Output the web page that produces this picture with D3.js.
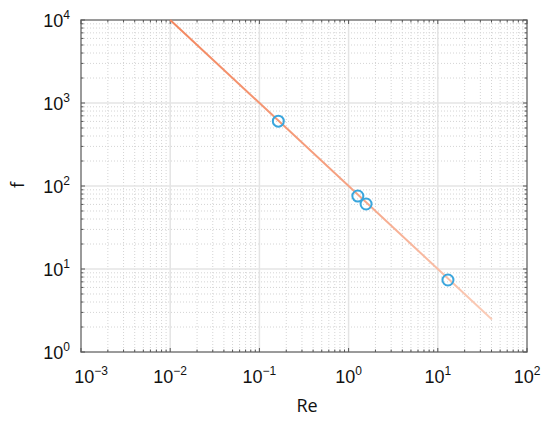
<!DOCTYPE html>
<meta charset="utf-8">
<style>
  body { margin: 0; background: #fff; }
  .tick-label { font-family: "Liberation Sans", Arial, sans-serif; font-size: 18px; fill: #111; }
  .axis-title { font-family: "Open Sans", sans-serif; font-size: 18px; fill: #111; }
</style>
<body>
<svg width="550" height="421"></svg>
<script src="https://d3js.org/d3.v7.min.js"></script>
<script>
// dane
const xTickExps = [-3, -2, -1, 0, 1, 2];
const yTickExps = [0, 1, 2, 3, 4];
const lineRe = [0.01, 40.5];
const lineF = [10000, 2.47];
const pointRe = [0.163, 1.27, 1.57, 13.0];
const pointF = [604, 75.7, 60.7, 7.37];

const svg = d3.select('svg');
const m = { left: 81, right: 527, top: 20, bottom: 352 };

const x = d3.scaleLog().domain([1e-3, 1e2]).range([m.left, m.right]);
const y = d3.scaleLog().domain([1, 1e4]).range([m.bottom, m.top]);

// siatka pomocnicza
const minorX = [], minorY = [];
for (let e = -3; e < 2; e++) for (let k = 2; k <= 9; k++) minorX.push(k * Math.pow(10, e));
for (let e = 0; e < 4; e++) for (let k = 2; k <= 9; k++) minorY.push(k * Math.pow(10, e));

const grid = svg.append('g');
grid.selectAll('.mx').data(minorX).enter().append('line')
  .attr('x1', d => x(d)).attr('x2', d => x(d))
  .attr('y1', m.top).attr('y2', m.bottom)
  .attr('stroke', '#d4d4d4').attr('stroke-width', 1).attr('stroke-dasharray', '1,2');
grid.selectAll('.my').data(minorY).enter().append('line')
  .attr('y1', d => y(d)).attr('y2', d => y(d))
  .attr('x1', m.left).attr('x2', m.right)
  .attr('stroke', '#d4d4d4').attr('stroke-width', 1).attr('stroke-dasharray', '1,2');
grid.selectAll('.Mx').data(xTickExps.slice(1, -1)).enter().append('line')
  .attr('x1', d => x(Math.pow(10, d))).attr('x2', d => x(Math.pow(10, d)))
  .attr('y1', m.top).attr('y2', m.bottom)
  .attr('stroke', '#e4e4e4').attr('stroke-width', 1.5);
grid.selectAll('.My').data(yTickExps.slice(1, -1)).enter().append('line')
  .attr('y1', d => y(Math.pow(10, d))).attr('y2', d => y(Math.pow(10, d)))
  .attr('x1', m.left).attr('x2', m.right)
  .attr('stroke', '#e4e4e4').attr('stroke-width', 1.5);

// ramka
svg.append('rect')
  .attr('x', m.left).attr('y', m.top)
  .attr('width', m.right - m.left).attr('height', m.bottom - m.top)
  .attr('fill', 'none').attr('stroke', '#7a7a7a').attr('stroke-width', 1.5);

// znaczniki do wewnątrz
const ticks = svg.append('g').attr('stroke', '#555').attr('stroke-width', 1);
const allX = minorX.concat(xTickExps.map(e => Math.pow(10, e)));
const allY = minorY.concat(yTickExps.map(e => Math.pow(10, e)));
const isMajor = v => Math.abs(Math.log10(v) - Math.round(Math.log10(v))) < 1e-9;
allX.forEach(v => {
  const len = isMajor(v) ? 4 : 2.5;
  ticks.append('line').attr('x1', x(v)).attr('x2', x(v)).attr('y1', m.bottom).attr('y2', m.bottom - len);
  ticks.append('line').attr('x1', x(v)).attr('x2', x(v)).attr('y1', m.top).attr('y2', m.top + len);
});
allY.forEach(v => {
  const len = isMajor(v) ? 4 : 2.5;
  ticks.append('line').attr('y1', y(v)).attr('y2', y(v)).attr('x1', m.left).attr('x2', m.left + len);
  ticks.append('line').attr('y1', y(v)).attr('y2', y(v)).attr('x1', m.right).attr('x2', m.right - len);
});

// etykiety osi
function pow10Label(g, e, px, py, anchor) {
  const t = g.append('text').attr('class', 'tick-label')
    .attr('x', px).attr('y', py).attr('text-anchor', anchor);
  t.append('tspan').text('10');
  t.append('tspan').attr('dy', -8).attr('font-size', 12).text(e < 0 ? '\u2212' + (-e) : e);
}
const labels = svg.append('g');
xTickExps.forEach(e => {
  const px = e === -3 ? x(Math.pow(10, e)) + 10 : x(Math.pow(10, e));
  pow10Label(labels, e, px, 383, 'middle');
});
yTickExps.forEach(e => pow10Label(labels, e, 70, y(Math.pow(10, e)) + 7, 'end'));

svg.append('text').attr('class', 'axis-title')
  .attr('x', 307).attr('y', 412).attr('text-anchor', 'middle').text('Re');
svg.append('text').attr('class', 'axis-title')
  .attr('transform', 'translate(24,185) rotate(-90)')
  .attr('text-anchor', 'middle').text('f');

// linia z gradientem
const defs = svg.append('defs');
const grad = defs.append('linearGradient').attr('id', 'lg')
  .attr('gradientUnits', 'userSpaceOnUse')
  .attr('x1', x(lineRe[0])).attr('y1', y(lineF[0]))
  .attr('x2', x(lineRe[1])).attr('y2', y(lineF[1]));
grad.append('stop').attr('offset', '0%').attr('stop-color', '#f3875f');
grad.append('stop').attr('offset', '55%').attr('stop-color', '#f5a283');
grad.append('stop').attr('offset', '100%').attr('stop-color', '#fbcdb9');

const lineData = lineRe.map((r, i) => [r, lineF[i]]);
svg.append('path')
  .datum(lineData)
  .attr('d', d3.line().x(d => x(d[0])).y(d => y(d[1])))
  .attr('fill', 'none').attr('stroke', 'url(#lg)').attr('stroke-width', 2);

// punkty pomiarowe
svg.append('g').selectAll('circle')
  .data(pointRe.map((r, i) => [r, pointF[i]]))
  .enter().append('circle')
  .attr('cx', d => x(d[0])).attr('cy', d => y(d[1]))
  .attr('r', 5.5)
  .attr('fill', 'none').attr('stroke', '#3aa6dd').attr('stroke-width', 2);
</script>
</body>
